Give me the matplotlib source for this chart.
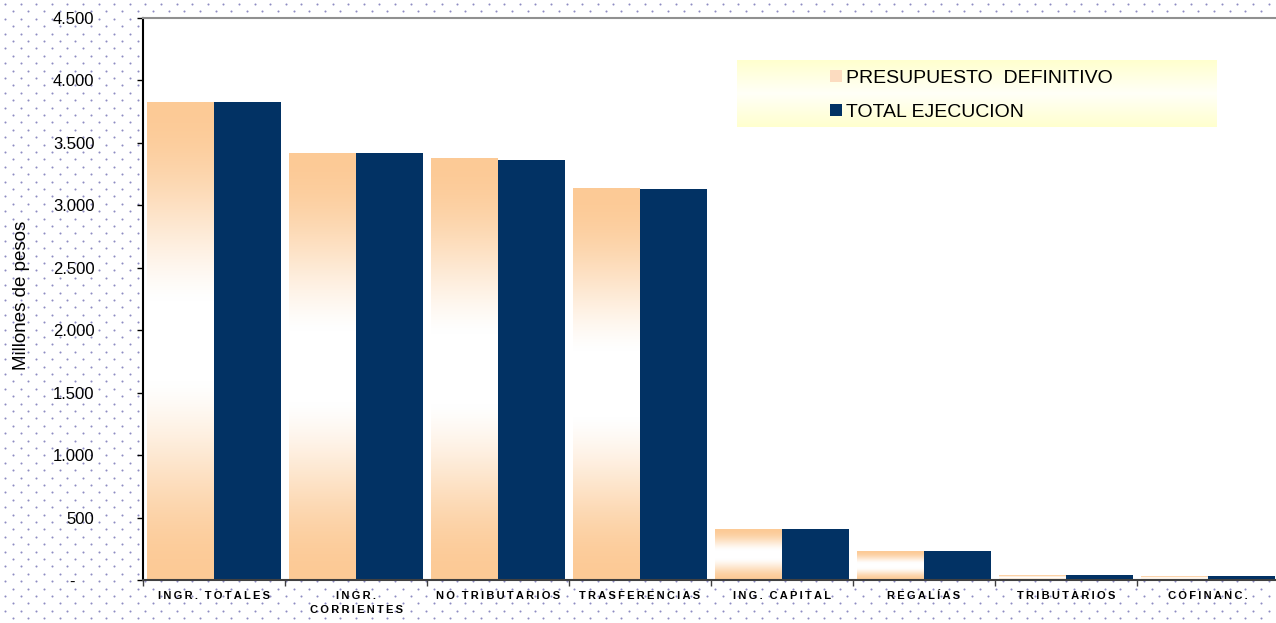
import numpy as np
import matplotlib
matplotlib.use("Agg")
import matplotlib.pyplot as plt
from matplotlib.patches import Rectangle
from matplotlib.ticker import FixedLocator

plt.rcParams['font.family'] = ['Liberation Sans', 'DejaVu Sans']

categories = ["INGR. TOTALES", "INGR.\nCORRIENTES", "NO TRIBUTARIOS", "TRASFERENCIAS",
              "ING. CAPITAL", "REGALÍAS", "TRIBUTARIOS", "COFINANC."]
presupuesto = [3827, 3419, 3371, 3131, 408, 232, 38, 32]
ejecucion = [3827, 3419, 3363, 3131, 408, 232, 40, 32]
yticks = [0, 500, 1000, 1500, 2000, 2500, 3000, 3500, 4000, 4500]
ytick_labels = ["-    ", "500", "1.000", "1.500", "2.000", "2.500", "3.000", "3.500", "4.000", "4.500"]
series_names = ["PRESUPUESTO  DEFINITIVO", "TOTAL EJECUCION"]

W, H = 1276, 623
fig = plt.figure(figsize=(W / 100, H / 100), dpi=100)
fig.patch.set_facecolor('white')

# dotted background
bg = fig.add_axes([0, 0, 1, 1], zorder=-5)
bg.set_xlim(0, W)
bg.set_ylim(H, 0)
bg.axis('off')
dx, dy = 15.6, 7.4
pts_x, pts_y = [], []
for r, yy in enumerate(np.arange(4, H, dy)):
    off = 5 + (dx / 2 if r % 2 else 0)
    xs = np.arange(off, W, dx)
    pts_x.extend(xs)
    pts_y.extend([yy] * len(xs))
bg.scatter(pts_x, pts_y, s=2.2, c='#8e8cc2', linewidths=0)

left_px, right_px, top_px, bottom_px = 143, 1279, 18, 580
ax = fig.add_axes([left_px / W, 1 - bottom_px / H, (right_px - left_px) / W, (bottom_px - top_px) / H])
ax.set_facecolor('white')

n = len(categories)
x = np.arange(n)
bw = 0.47
navy = '#023264'
peach = np.array([252, 202, 150]) / 255.0
white = np.array([1.0, 1.0, 1.0])

bars_p = ax.bar(x - bw / 2, presupuesto, bw, color='none', edgecolor='none', zorder=2)
bars_e = ax.bar(x + bw / 2, ejecucion, bw, color=navy, edgecolor='none', zorder=2)

# gradient fill for presupuesto bars: peach - white - peach
t = np.linspace(0, 1, 256)
f = 0.5 * (1 - np.cos(2 * np.pi * t))
f = np.clip(f * 1.08, 0, 1)
grad = peach[None, :] * (1 - f[:, None]) + white[None, :] * f[:, None]
grad_img = grad[:, None, :]
for b in bars_p:
    x0, y0 = b.get_x(), b.get_y()
    w, h = b.get_width(), b.get_height()
    ax.imshow(grad_img, extent=[x0, x0 + w, y0, y0 + h], aspect='auto',
              origin='lower', zorder=2, interpolation='bilinear')

ax.set_xlim(-0.5, n - 0.5)
ax.set_ylim(0, 4500)
ax.set_yticks(yticks)
ax.set_yticklabels(ytick_labels, fontsize=12)
ax.tick_params(axis='y', length=4, width=1, pad=31, color='black', direction='out')

# x ticks at group boundaries, labels at centres
ax.xaxis.set_major_locator(FixedLocator(np.arange(-0.5, n, 1.0)))
ax.set_xticklabels([])
ax.xaxis.set_minor_locator(FixedLocator(x))
spaced = ["\u2009".join(list(c)).replace("\u2009\n\u2009", "\n").replace("\u2009 \u2009", "\u2009\u2009\u2009") for c in categories]
ax.set_xticklabels(spaced, minor=True, fontsize=8, fontweight='bold', linespacing=1.5)
ax.tick_params(axis='x', which='major', length=4, width=1, color='#404040')
ax.tick_params(axis='x', which='minor', length=0, pad=8)

ax.spines['right'].set_visible(False)
ax.spines['top'].set_color('#909090')
ax.spines['top'].set_linewidth(1.5)
ax.spines['left'].set_color('black')
ax.spines['left'].set_linewidth(1.5)
ax.spines['bottom'].set_color('#404040')
ax.spines['bottom'].set_linewidth(1.5)

fig.text(22 / W, 1 - 295 / H, "Millones de pesos", rotation=90, fontsize=13.5,
         ha='center', va='center')

# legend background (pale yellow gradient)
lx0, lx1, ly0, ly1 = 737, 1217, 60, 127
lax = fig.add_axes([lx0 / W, 1 - ly1 / H, (lx1 - lx0) / W, (ly1 - ly0) / H], zorder=3)
lt = np.linspace(0, 1, 128)
yel = np.array([255, 255, 206]) / 255.0
lf = np.clip(1 - np.abs(lt - 0.5) / 0.5, 0, 1)
lgrad = yel[None, :] * (1 - lf[:, None]) + np.array([1, 1, 0.97])[None, :] * lf[:, None]
lax.imshow(lgrad[:, None, :], aspect='auto', extent=[0, 1, 0, 1], interpolation='bilinear')
lax.axis('off')

h1 = Rectangle((0, 0), 1, 1, facecolor='#fcdcc0', edgecolor='none')
h2 = Rectangle((0, 0), 1, 1, facecolor=navy, edgecolor='none')
leg = fig.legend([h1, h2], series_names, loc='upper left',
                 bbox_to_anchor=(830 / W, 1 - 70 / H), bbox_transform=fig.transFigure,
                 frameon=False, fontsize=14, handlelength=0.6, handleheight=0.6,
                 handletextpad=0.2, labelspacing=0.85, borderpad=0, borderaxespad=0)
leg.set_zorder(4)

fig.savefig("out.png", dpi=100, facecolor='white')
